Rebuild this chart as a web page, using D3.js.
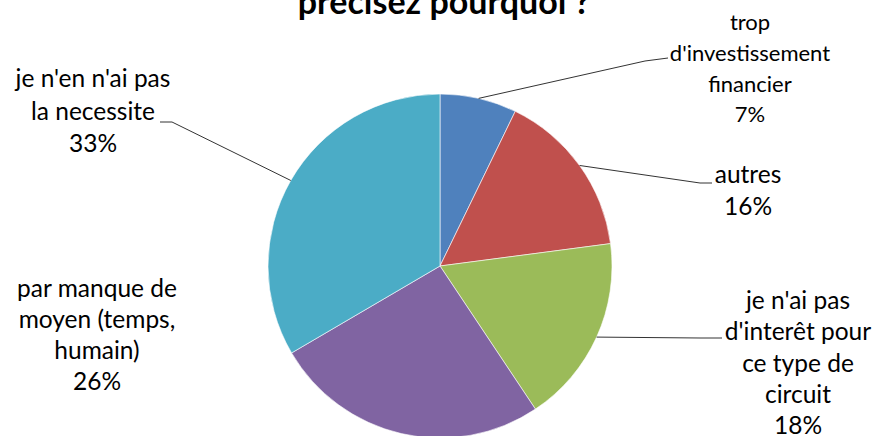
<!DOCTYPE html>
<html><head><meta charset="utf-8">
<script src="https://cdn.jsdelivr.net/npm/d3@7"></script>
<style>html,body{margin:0;padding:0;background:#fff;}svg{display:block;}</style>
</head><body>
<svg id="chart" width="878" height="436"></svg>
<script>
const title = "précisez pourquoi ?";
const categories = [
  "trop d'investissement financier",
  "autres",
  "je n'ai pas d'interêt pour ce type de circuit",
  "par manque de moyen (temps, humain)",
  "je n'en n'ai pas la necessite"
];
const labelLines = [
  ["trop", "d'investissement", "financier"],
  ["autres"],
  ["je n'ai pas", "d'interêt pour", "ce type de", "circuit"],
  ["par manque de", "moyen (temps,", "humain)"],
  ["je n'en n'ai pas", "la necessite"]
];
const values = [7.2, 15.7, 17.7, 25.9, 33.4];
const colors = ["#4F81BD", "#C0504D", "#9BBB59", "#8064A2", "#4BACC6"];

// layout (label anchor centres, first line baseline, leader end)
const labelLayout = [
  {x: 750, y: 30, size: 22, gap: 30.8, lead: [[645, 61], [668, 58]]},
  {x: 748, y: 183, size: 24.5, gap: 31.5, lead: [[700, 183], [712, 183]]},
  {x: 798, y: 309, size: 24.5, gap: 31.3, lead: [[700, 338], [722, 338]]},
  {x: 97, y: 297, size: 24.5, gap: 31, lead: null},
  {x: 93, y: 87, size: 24.5, gap: 32.5, lead: [[172, 122], [160, 122]]}
];

const svg = d3.select("#chart");
const cx = 440, cy = 266, R = 172;
const font = "Lato, 'Open Sans', sans-serif";

svg.append("text").attr("x", 444).attr("y", 14).attr("text-anchor", "middle")
  .attr("font-family", font).attr("font-weight", "bold").attr("font-size", 34)
  .attr("fill", "#000").text(title);

const total = d3.sum(values);
const pie = d3.pie().sort(null).value(d => d);
const arcs = pie(values);
const arc = d3.arc().innerRadius(0).outerRadius(R);

const g = svg.append("g").attr("transform", `translate(${cx},${cy})`);
g.selectAll("path").data(arcs).join("path")
  .attr("d", arc).attr("fill", (d, i) => colors[i])
  .attr("stroke", "#fff").attr("stroke-width", 0.6);

const fmt = d3.format(".0%");
arcs.forEach((a, i) => {
  const L = labelLayout[i];
  const mid = (a.startAngle + a.endAngle) / 2;
  const sx = cx + R * Math.sin(mid), sy = cy - R * Math.cos(mid);
  if (L.lead) {
    const pts = [[sx, sy], ...L.lead];
    svg.append("path").attr("d", d3.line()(pts))
      .attr("fill", "none").attr("stroke", "#333").attr("stroke-width", 1);
  }
  const lines = [...labelLines[i], fmt(values[i] / total)];
  const t = svg.append("text").attr("text-anchor", "middle")
    .attr("font-family", font).attr("font-size", L.size).attr("fill", "#000");
  lines.forEach((ln, k) => {
    t.append("tspan").attr("x", L.x).attr("y", L.y + k * L.gap).text(ln);
  });
});
</script>
</body></html>
